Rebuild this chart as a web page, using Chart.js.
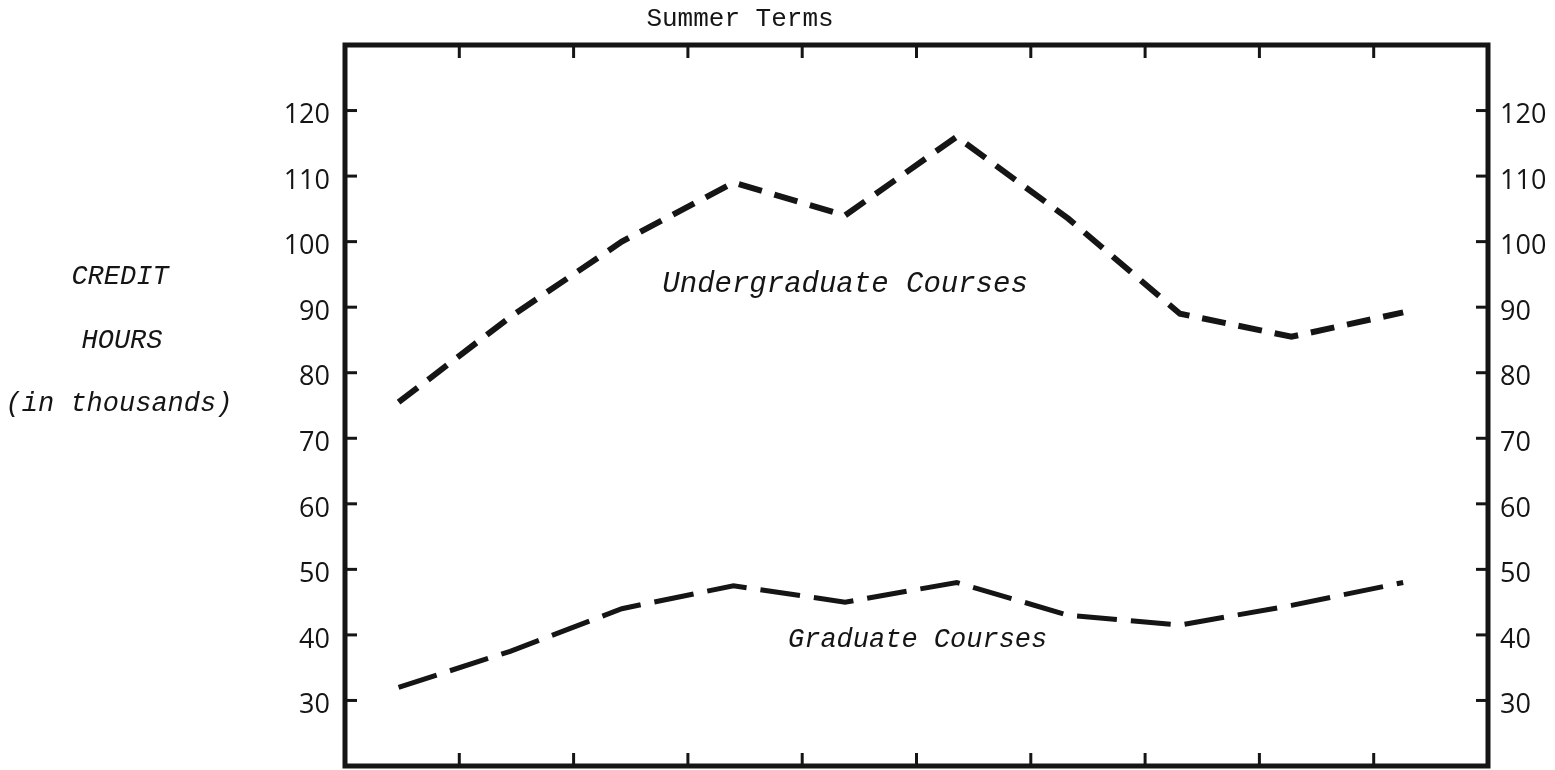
<!DOCTYPE html>
<html>
<head>
<meta charset="utf-8">
<script src="https://cdn.jsdelivr.net/npm/chart.js@4.4.1/dist/chart.umd.min.js"></script>
<style>
  html, body { margin: 0; padding: 0; background: #fff; }
  canvas { display: block; }
</style>
</head>
<body>
<canvas id="creditChart" width="1555" height="770"></canvas>
<script>
// ten summer terms, plotted left to right
const termPos = [0, 1, 2, 3, 4, 5, 6, 7, 8, 9];
// credit hours, in thousands
const undergraduate = [75.5, 88.5, 100, 109, 104, 116, 103.5, 89, 85.5, 89.2];
const graduate = [32, 37.5, 44, 47.5, 45, 48, 43, 41.5, 44.5, 48];
const yTicks = [30, 40, 50, 60, 70, 80, 90, 100, 110, 120];
const frameTicks = [1, 2, 3, 4, 5, 6, 7, 8, 9];

const ink = "#151515";
const mono = "'Liberation Mono', 'DejaVu Sans Mono', monospace";

const toPoints = (vals) => termPos.map((x, i) => ({ x: x, y: vals[i] }));

// frame, inward tick marks and the typed captions
const frameAndNotes = {
    id: "frameAndNotes",
    afterDatasetsDraw(chart) {
        const { ctx, chartArea: a, scales } = chart;
        const line = (x1, y1, x2, y2) => {
            ctx.beginPath();
            ctx.moveTo(x1, y1);
            ctx.lineTo(x2, y2);
            ctx.stroke();
        };
        ctx.save();
        ctx.strokeStyle = ink;
        ctx.lineWidth = 5;
        ctx.strokeRect(a.left, a.top, a.right - a.left, a.bottom - a.top);

        ctx.lineWidth = 3;
        yTicks.forEach((v) => {
            const py = scales.y.getPixelForValue(v);
            line(a.left, py, a.left + 12, py);
            line(a.right - 12, py, a.right, py);
        });
        frameTicks.forEach((v) => {
            const px = scales.xf.getPixelForValue(v);
            line(px, a.top, px, a.top + 13);
            line(px, a.bottom - 13, px, a.bottom);
        });

        ctx.fillStyle = ink;
        ctx.textAlign = "center";
        ctx.textBaseline = "middle";
        ctx.font = "26px " + mono;
        ctx.fillText("Summer Terms", 740, 19);

        ctx.font = "italic 27px " + mono;
        ctx.fillText("CREDIT", 120, 277);
        ctx.fillText("HOURS", 122, 341);
        ctx.fillText("(in thousands)", 119, 404);

        ctx.font = "italic 29px " + mono;
        ctx.fillText("Undergraduate Courses",
            scales.x.getPixelForValue(4.0), scales.y.getPixelForValue(93.5));
        ctx.font = "italic 27px " + mono;
        ctx.fillText("Graduate Courses",
            scales.x.getPixelForValue(4.65), scales.y.getPixelForValue(39.2));
        ctx.restore();
    },
};

const valueAxis = (position, width, padding) => ({
    type: "linear",
    position: position,
    min: 20,
    max: 130,
    afterBuildTicks: (scale) => {
        scale.ticks = yTicks.map((v) => ({ value: v }));
    },
    afterFit: (scale) => {
        scale.width = width;
        scale.paddingTop = 0;
        scale.paddingBottom = 0;
    },
    ticks: {
        color: ink,
        padding: padding,
        labelOffset: 5,
        font: { family: "'Open Sans', sans-serif", size: 27 },
    },
    grid: { display: false, drawTicks: false },
    border: { display: false },
});

const ctx = document.getElementById("creditChart").getContext("2d");

new Chart(ctx, {
    type: "line",
    data: {
        datasets: [
            {
                label: "Undergraduate Courses",
                data: toPoints(undergraduate),
                borderColor: ink,
                borderWidth: 6,
                borderDash: [24, 13],
                pointRadius: 0,
                tension: 0,
                fill: false,
            },
            {
                label: "Graduate Courses",
                data: toPoints(graduate),
                borderColor: ink,
                borderWidth: 5,
                borderDash: [40, 14],
                pointRadius: 0,
                tension: 0,
                fill: false,
            },
        ],
    },
    options: {
        responsive: false,
        animation: false,
        devicePixelRatio: 1,
        layout: { padding: { top: 45, bottom: 4, left: 0, right: 0 } },
        plugins: {
            legend: { display: false },
            tooltip: { enabled: false },
        },
        scales: {
            x: { type: "linear", min: -0.48, max: 9.76, display: false },
            xf: { type: "linear", axis: "x", min: 0, max: 10, display: false },
            y: valueAxis("left", 345, 15),
            y2: valueAxis("right", 67, 12),
        },
    },
    plugins: [frameAndNotes],
});
</script>
</body>
</html>
